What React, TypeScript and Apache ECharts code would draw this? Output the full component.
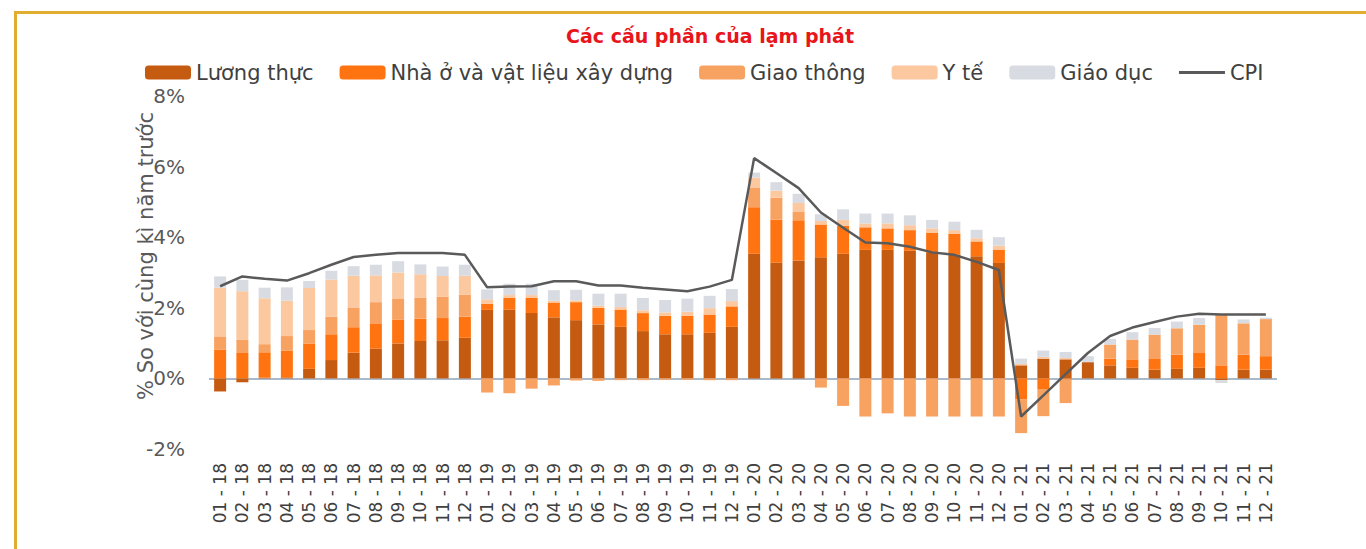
import React, { useEffect, useRef } from "react";
import * as echarts from "echarts";

const categories = [
  "01 - 18", "02 - 18", "03 - 18", "04 - 18", "05 - 18", "06 - 18", "07 - 18", "08 - 18", "09 - 18", "10 - 18", "11 - 18", "12 - 18",
  "01 - 19", "02 - 19", "03 - 19", "04 - 19", "05 - 19", "06 - 19", "07 - 19", "08 - 19", "09 - 19", "10 - 19", "11 - 19", "12 - 19",
  "01 - 20", "02 - 20", "03 - 20", "04 - 20", "05 - 20", "06 - 20", "07 - 20", "08 - 20", "09 - 20", "10 - 20", "11 - 20", "12 - 20",
  "01 - 21", "02 - 21", "03 - 21", "04 - 21", "05 - 21", "06 - 21", "07 - 21", "08 - 21", "09 - 21", "10 - 21", "11 - 21", "12 - 21",
];

const luongThuc = [
  -0.37, -0.11, 0.02, 0.03, 0.27, 0.52, 0.73, 0.84, 0.99, 1.06, 1.08, 1.15,
  1.94, 1.95, 1.85, 1.73, 1.65, 1.53, 1.46, 1.34, 1.25, 1.25, 1.29, 1.46,
  3.53, 3.28, 3.34, 3.43, 3.53, 3.64, 3.64, 3.62, 3.55, 3.5, 3.46, 3.27,
  0.37, 0.56, 0.54, 0.46, 0.37, 0.3, 0.25, 0.27, 0.3, -0.05, 0.25, 0.25,
];
const nhaO = [
  0.82, 0.72, 0.72, 0.76, 0.72, 0.73, 0.72, 0.72, 0.68, 0.63, 0.63, 0.6,
  0.17, 0.33, 0.43, 0.42, 0.51, 0.47, 0.49, 0.51, 0.52, 0.52, 0.52, 0.58,
  1.32, 1.22, 1.14, 0.93, 0.79, 0.64, 0.61, 0.58, 0.58, 0.59, 0.42, 0.38,
  -0.6, -0.3, -0.03, 0, 0.19, 0.24, 0.3, 0.4, 0.42, 0.37, 0.42, 0.38,
];
const giaoThong = [
  0.37, 0.37, 0.23, 0.41, 0.38, 0.5, 0.56, 0.6, 0.58, 0.59, 0.6, 0.62,
  -0.4, -0.42, -0.29, -0.2, -0.06, -0.07, -0.05, -0.05, -0.04, -0.04, -0.05, -0.05,
  0.56, 0.62, 0.25, -0.26, -0.78, -1.08, -0.99, -1.08, -1.08, -1.08, -1.08, -1.08,
  -0.95, -0.77, -0.67, 0, 0.4, 0.56, 0.69, 0.75, 0.8, 1.44, 0.89, 1.05,
];
const yTe = [
  1.38, 1.38, 1.3, 1.0, 1.19, 1.05, 0.9, 0.76, 0.75, 0.67, 0.59, 0.54,
  0.13, 0.08, 0.08, 0.05, 0.05, 0.06, 0.07, 0.08, 0.1, 0.12, 0.18, 0.15,
  0.28, 0.2, 0.24, 0.1, 0.17, 0.11, 0.14, 0.14, 0.12, 0.11, 0.09, 0.11,
  0.04, 0.05, 0.04, 0, 0, 0, 0, 0, 0, 0, 0, 0,
];
const giaoDuc = [
  0.32, 0.32, 0.3, 0.38, 0.2, 0.25, 0.27, 0.3, 0.32, 0.28, 0.27, 0.31,
  0.28, 0.32, 0.32, 0.3, 0.3, 0.34, 0.38, 0.35, 0.35, 0.37, 0.35, 0.34,
  0.14, 0.24, 0.26, 0.19, 0.3, 0.28, 0.28, 0.28, 0.24, 0.24, 0.24, 0.24,
  0.15, 0.18, 0.17, 0.17, 0.16, 0.21, 0.19, 0.19, 0.19, -0.08, 0.11, 0.04,
];
const cpi = [
  2.61, 2.89, 2.82, 2.77, 2.98, 3.22, 3.44, 3.5, 3.55, 3.55, 3.55, 3.5,
  2.58, 2.6, 2.61, 2.75, 2.75, 2.63, 2.63, 2.57, 2.52, 2.47, 2.6, 2.79,
  6.24, 5.82, 5.39, 4.7, 4.27, 3.85, 3.83, 3.73, 3.57, 3.5, 3.3, 3.07,
  -1.08, -0.48, 0.12, 0.72, 1.2, 1.44, 1.6, 1.75, 1.83, 1.81, 1.81, 1.81,
];

const yTicks = { min: -2, max: 8, interval: 2 };

const seriesNames = ["Lương thực", "Nhà ở và vật liệu xây dựng", "Giao thông", "Y tế", "Giáo dục", "CPI"];
const seriesColors = ["#C55A11", "#FF7410", "#F8A262", "#FBC8A0", "#D8DCE2", "#5A5A5A"];

export default function App() {
  const ref = useRef<HTMLDivElement>(null);
  useEffect(() => {
    const chart = echarts.init(ref.current!, null, { renderer: "svg" });
    const font = "DejaVu Sans";
    const barData = [luongThuc, nhaO, giaoThong, yTe, giaoDuc];
    const bars = barData.map((d, i) => ({
      name: seriesNames[i],
      type: "bar",
      stack: "total",
      data: d,
      barWidth: 12,
      itemStyle: { color: seriesColors[i] },
      emphasis: { disabled: true },
      ...(i === 0
        ? {
            markLine: {
              silent: true,
              symbol: "none",
              label: { show: false },
              lineStyle: { color: "#8FA3BA", width: 1.5, type: "solid" },
              data: [{ yAxis: 0 }],
              z: 1,
            },
          }
        : {}),
    }));
    chart.setOption({
      animation: false,
      backgroundColor: "#ffffff",
      textStyle: { fontFamily: font },
      title: {
        text: "Các cấu phần của lạm phát",
        left: 566,
        top: 26,
        padding: 0,
        textStyle: { color: "#E8151B", fontSize: 19, fontWeight: "bold", fontFamily: font },
      },
      legend: {
        left: 145,
        top: 62,
        padding: 0,
        itemWidth: 46,
        itemHeight: 14,
        itemGap: 26,
        textStyle: { fontSize: 21, color: "#404040", fontFamily: font },
        data: [
          ...seriesNames.slice(0, 5),
          { name: "CPI", icon: "path://M0,0 L46,0 L46,3 L0,3 Z" },
        ],
      },
      grid: { left: 209, right: 89, top: 96, bottom: 100, containLabel: false },
      xAxis: {
        type: "category",
        data: categories,
        axisLine: { show: false },
        axisTick: { show: false },
        axisLabel: { rotate: 90, fontSize: 17, color: "#404040", margin: 14, interval: 0, fontFamily: font },
      },
      yAxis: {
        type: "value",
        min: yTicks.min,
        max: yTicks.max,
        interval: yTicks.interval,
        axisLine: { show: false },
        axisTick: { show: false },
        splitLine: { show: false },
        axisLabel: { formatter: (v: number) => `${v}%`, fontSize: 20, color: "#595959", margin: 24, fontFamily: font },
      },
      graphic: [
        {
          type: "rect",
          shape: { x: 15.5, y: 12.5, width: 1400, height: 600 },
          style: { fill: "none", stroke: "#E1AD2E", lineWidth: 3 },
          silent: true,
        },
        {
          type: "text",
          x: 146,
          y: 256,
          rotation: Math.PI / 2,
          style: {
            text: "% So với cùng kì năm trước",
            fill: "#595959",
            fontSize: 21,
            fontFamily: font,
            textAlign: "center",
            textVerticalAlign: "middle",
          },
          silent: true,
        },
      ],
      series: [
        ...bars,
        {
          name: "CPI",
          type: "line",
          data: cpi,
          symbol: "none",
          lineStyle: { color: seriesColors[5], width: 2.5 },
          itemStyle: { color: seriesColors[5] },
          z: 5,
        },
      ],
    });
    return () => chart.dispose();
  }, []);
  return (
    <div
      ref={ref}
      style={{ position: "fixed", left: 0, top: 0, width: 1366, height: 549, background: "#fff" }}
    />
  );
}
